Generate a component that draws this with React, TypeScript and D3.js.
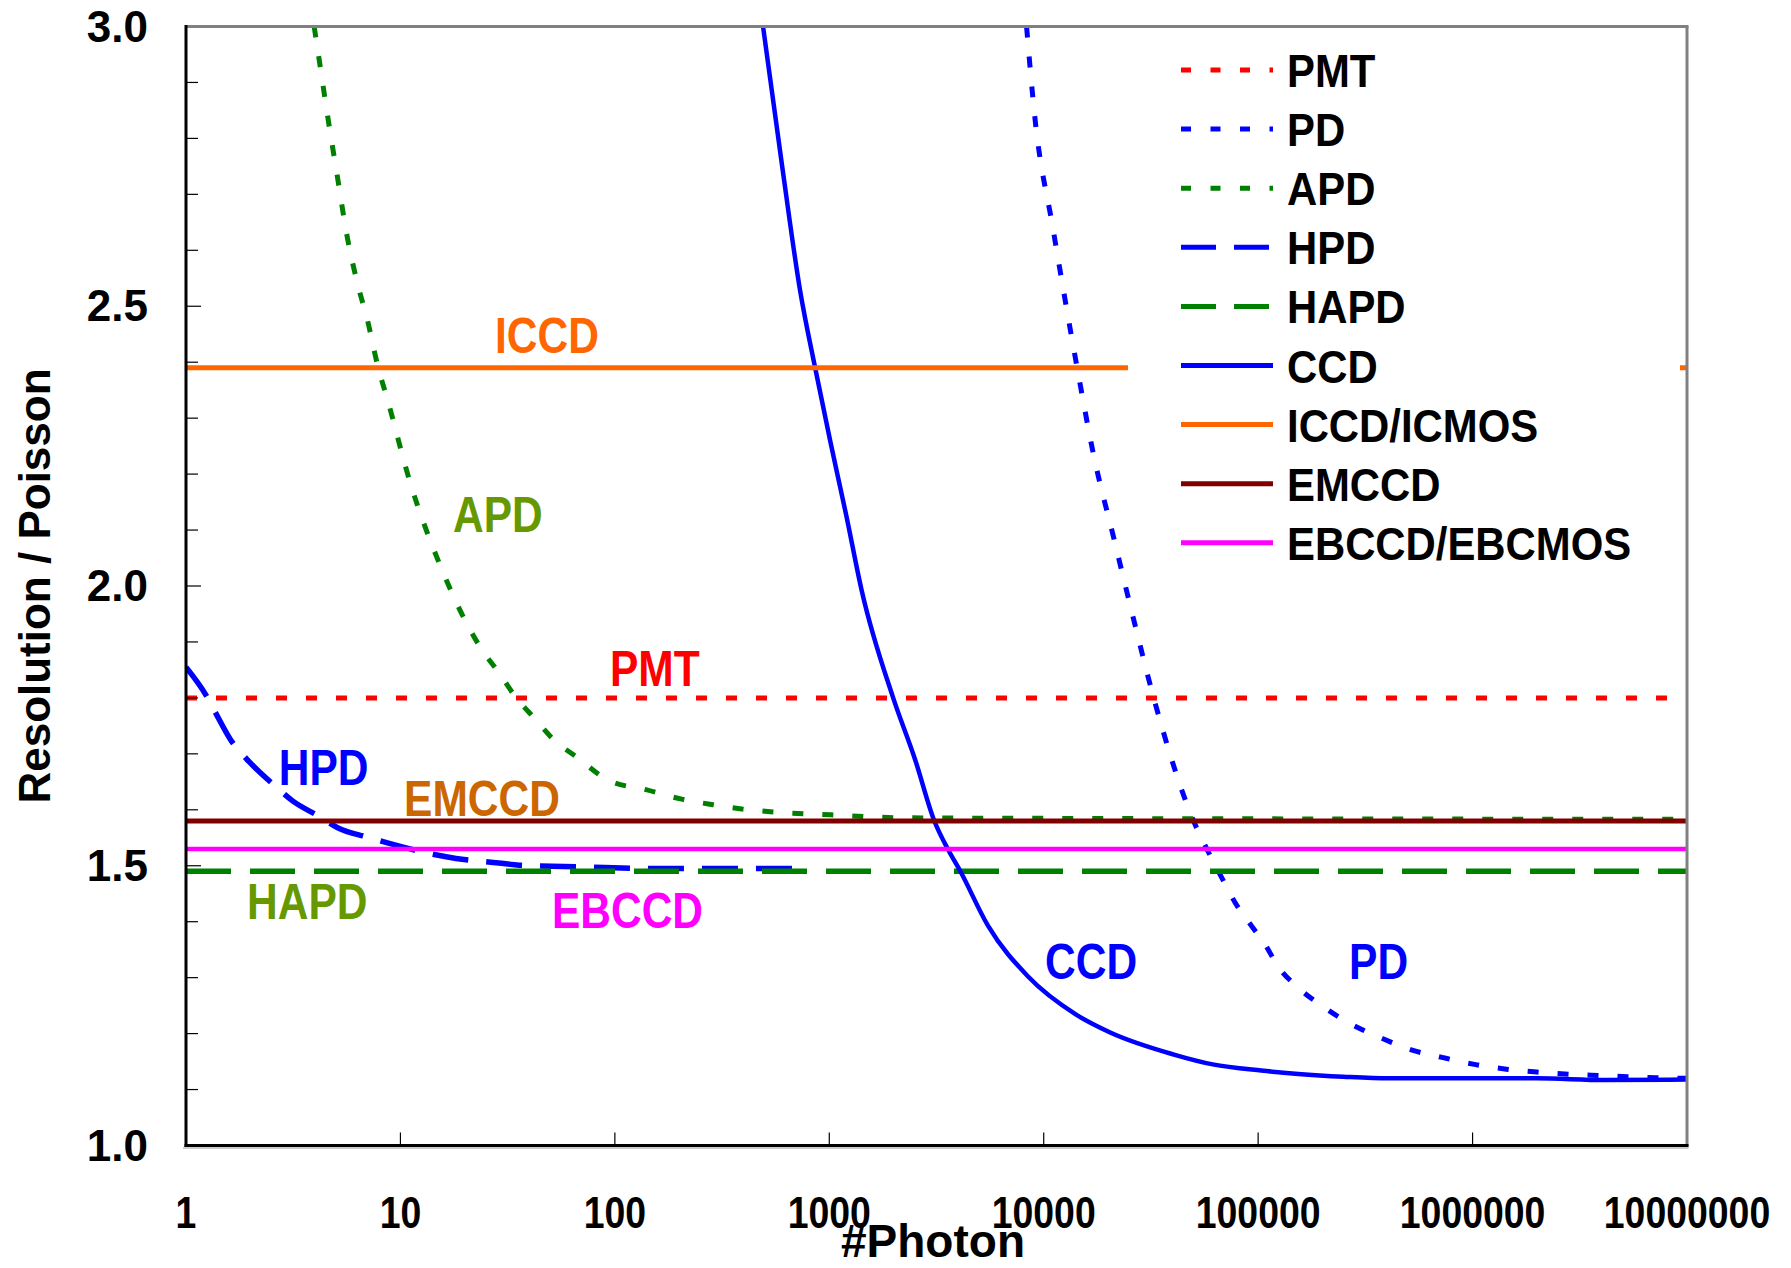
import React from 'react';
import * as d3 from 'd3';

const W = 1791;
const H = 1268;
const FONT = "'Liberation Sans', Arial, Helvetica, sans-serif";

// Axes
const X_DOMAIN = [1, 10000000];
const Y_DOMAIN = [1, 3];
const X_TICKS = [1, 10, 100, 1000, 10000, 100000, 1000000, 10000000];
const X_TICK_LABELS = ['1', '10', '100', '1000', '10000', '100000', '1000000', '10000000'];
const Y_MAJOR = [1.0, 1.5, 2.0, 2.5, 3.0];
const Y_TICK_LABELS = ['1.0', '1.5', '2.0', '2.5', '3.0'];
const Y_MINOR = [1.1, 1.2, 1.3, 1.4, 1.6, 1.7, 1.8, 1.9, 2.1, 2.2, 2.3, 2.4, 2.6, 2.7, 2.8, 2.9];
const X_TITLE = '#Photon';
const Y_TITLE = 'Resolution / Poisson';

// Flat series (constant levels)
const PMT_LEVEL = 1.80;
const ICCD_LEVEL = 2.39;
const EMCCD_LEVEL = 1.58;
const EBCCD_LEVEL = 1.53;
const HAPD_LEVEL = 1.49;

// Curves: photon number vs. resolution/poisson
const CCD_N = [491, 603, 731, 859, 1009, 1205, 1416, 1986, 2512, 3090, 3581, 4074, 5495, 8453, 14160, 20420, 40090, 61380, 103300, 153800, 249500, 407400, 1995000, 4130000, 10000000];
const CCD_V = [3.0, 2.75, 2.528, 2.39, 2.26, 2.123, 1.992, 1.80, 1.69, 1.58, 1.529, 1.491, 1.393, 1.302, 1.234, 1.202, 1.163, 1.145, 1.134, 1.128, 1.123, 1.120, 1.120, 1.117, 1.118];

const PD_N = [8318, 9078, 11070, 14320, 17180, 21180, 26120, 32580, 50000, 57810, 67140, 78160, 93760, 106700, 123900, 153800, 200900, 274200, 370700, 517600, 729400, 1019000, 1466000, 2046000, 2944000, 4018000, 5248000, 7178000, 10000000];
const PD_V = [3.0, 2.84, 2.637, 2.39, 2.23, 2.087, 1.944, 1.80, 1.58, 1.529, 1.481, 1.434, 1.391, 1.362, 1.32, 1.282, 1.248, 1.216, 1.193, 1.171, 1.157, 1.145, 1.136, 1.131, 1.127, 1.125, 1.123, 1.121, 1.12];

const APD_N = [3.96, 4.22, 4.61, 5.09, 5.61, 6.37, 6.97, 7.89, 8.63, 11.2, 15.2, 23.8, 28.9, 34.4, 42.1, 52.2, 66.5, 92.9, 139.6, 205.1, 287.1, 399.9, 601.2, 1019, 2000, 5212, 10000000];
const APD_V = [3.0, 2.93, 2.832, 2.73, 2.63, 2.534, 2.48, 2.389, 2.338, 2.18, 2.04, 1.888, 1.844, 1.802, 1.764, 1.724, 1.694, 1.653, 1.636, 1.619, 1.609, 1.601, 1.595, 1.591, 1.586, 1.585, 1.583];

const HPD_N = [1, 1.239, 1.38, 1.622, 1.905, 2.63, 3.141, 4.188, 5.093, 7.031, 8.872, 14.39, 18.16, 28.71, 35.81, 71.6, 143.5, 712.9];
const HPD_V = [1.855, 1.805, 1.772, 1.724, 1.692, 1.641, 1.616, 1.588, 1.568, 1.551, 1.540, 1.52, 1.513, 1.505, 1.501, 1.498, 1.495, 1.495];

// Legend
const LEGEND_NAMES = ['PMT', 'PD', 'APD', 'HPD', 'HAPD', 'CCD', 'ICCD/ICMOS', 'EMCCD', 'EBCCD/EBCMOS'];

const RED = '#FF0000';
const BLUE = '#0000FF';
const GREEN = '#008000';
const ORANGE = '#FF6600';
const MAROON = '#800000';
const MAGENTA = '#FF00FF';
const OLIVE = '#669900';
const BROWN_ORANGE = '#CC6600';

const DOT = '11,19';

type Style = { color: string; dash?: string; legendDash?: string; width: number };
const STYLES: Record<string, Style> = {
  PMT: { color: RED, dash: DOT, legendDash: '10,19.5', width: 5 },
  PD: { color: BLUE, dash: DOT, legendDash: '10,19.5', width: 5 },
  APD: { color: GREEN, dash: DOT, legendDash: '10,19.5', width: 5 },
  HPD: { color: BLUE, dash: '36,18', legendDash: '35,18', width: 5.5 },
  HAPD: { color: GREEN, dash: '45,19', legendDash: '35,18', width: 5.5 },
  CCD: { color: BLUE, width: 4.5 },
  'ICCD/ICMOS': { color: ORANGE, width: 5 },
  EMCCD: { color: MAROON, width: 5 },
  'EBCCD/EBCMOS': { color: MAGENTA, width: 4.5 },
};

// Annotation labels (anchored at their left baseline, in data coordinates)
const ANNOTATIONS = [
  { text: 'ICCD', color: ORANGE, n: 27.6, v: 2.417 },
  { text: 'APD', color: OLIVE, n: 17.6, v: 2.097 },
  { text: 'PMT', color: RED, n: 94.9, v: 1.821 },
  { text: 'HPD', color: BLUE, n: 2.71, v: 1.644 },
  { text: 'EMCCD', color: BROWN_ORANGE, n: 10.4, v: 1.589 },
  { text: 'HAPD', color: OLIVE, n: 1.926, v: 1.405 },
  { text: 'EBCCD', color: MAGENTA, n: 50.9, v: 1.389 },
  { text: 'CCD', color: BLUE, n: 10140, v: 1.297 },
  { text: 'PD', color: BLUE, n: 265500, v: 1.297 },
];

export default function App() {
  const left = 186;
  const right = 1687;
  const top = 26.5;
  const bottom = 1145.5;

  const x = d3.scaleLog().domain(X_DOMAIN).range([left, right]);
  const y = d3.scaleLinear().domain(Y_DOMAIN).range([bottom, top]);

  const line = d3
    .line<[number, number]>()
    .x((d) => x(d[0]))
    .y((d) => y(d[1]))
    .curve(d3.curveMonotoneX);

  const zip = (ns: number[], vs: number[]) => ns.map((n, i) => [n, vs[i]] as [number, number]);
  const flat = (v: number) => [[X_DOMAIN[0], v], [X_DOMAIN[1], v]] as [number, number][];

  const series: { name: string; pts: [number, number][] }[] = [
    { name: 'PMT', pts: flat(PMT_LEVEL) },
    { name: 'PD', pts: zip(PD_N, PD_V) },
    { name: 'APD', pts: zip(APD_N, APD_V) },
    { name: 'HPD', pts: zip(HPD_N, HPD_V) },
    { name: 'HAPD', pts: flat(HAPD_LEVEL) },
    { name: 'CCD', pts: zip(CCD_N, CCD_V) },
    { name: 'ICCD/ICMOS', pts: flat(ICCD_LEVEL) },
    { name: 'EMCCD', pts: flat(EMCCD_LEVEL) },
    { name: 'EBCCD/EBCMOS', pts: flat(EBCCD_LEVEL) },
  ];

  const legendX0 = 1181;
  const legendX1 = 1273;
  const legendTextX = 1287;
  const legendY0 = 70;
  const legendStep = 59.1;

  return (
    <svg
      width={W}
      height={H}
      viewBox={`0 0 ${W} ${H}`}
      style={{ position: 'absolute', left: 0, top: 0, background: '#fff' }}
      fontFamily={FONT}
      fontWeight="bold"
    >
      <rect x={0} y={0} width={W} height={H} fill="#fff" />
      <defs>
        <clipPath id="plotclip">
          <rect x={left} y={top} width={right - left} height={bottom - top} />
        </clipPath>
      </defs>

      {/* data */}
      <g clipPath="url(#plotclip)">
        {series.map((s) => {
          const st = STYLES[s.name];
          return (
            <path
              key={s.name}
              d={line(s.pts) || ''}
              fill="none"
              stroke={st.color}
              strokeWidth={st.width}
              strokeDasharray={st.dash}
              strokeLinecap="butt"
              strokeLinejoin="round"
            />
          );
        })}
      </g>

      {/* legend background */}
      <rect x={1128} y={32} width={552} height={548} fill="#fff" />

      {/* legend */}
      {LEGEND_NAMES.map((name, i) => {
        const st = STYLES[name];
        const cy = legendY0 + i * legendStep;
        return (
          <g key={name}>
            <line
              x1={legendX0}
              x2={legendX1}
              y1={cy}
              y2={cy}
              stroke={st.color}
              strokeWidth={5}
              strokeDasharray={st.legendDash}
            />
            <text
              transform={`translate(${legendTextX},${cy + 17}) scale(0.91,1)`}
              fontSize={46}
              fill="#000"
            >
              {name}
            </text>
          </g>
        );
      })}

      {/* annotations */}
      {ANNOTATIONS.map((a) => (
        <text
          key={a.text}
          transform={`translate(${x(a.n)},${y(a.v)}) scale(0.85,1)`}
          fontSize={50}
          fill={a.color}
        >
          {a.text}
        </text>
      ))}

      {/* y ticks */}
      {Y_MINOR.map((v) => (
        <line key={'ym' + v} x1={left} x2={left + 12} y1={y(v)} y2={y(v)} stroke="#000" strokeWidth={1.2} />
      ))}
      {Y_MAJOR.map((v) => (
        <line key={'yM' + v} x1={left} x2={left + 15} y1={y(v)} y2={y(v)} stroke="#000" strokeWidth={1.2} />
      ))}
      {Y_MAJOR.map((v, i) => (
        <text key={'yl' + v} x={148} y={y(v) + 15} textAnchor="end" fontSize={44} fill="#000">
          {Y_TICK_LABELS[i]}
        </text>
      ))}

      {/* x ticks */}
      {X_TICKS.map((t) => (
        <line key={'xt' + t} x1={x(t)} x2={x(t)} y1={bottom} y2={bottom - 13} stroke="#000" strokeWidth={1.2} />
      ))}
      {X_TICKS.map((t, i) => (
        <text
          key={'xl' + t}
          transform={`translate(${x(t)},1228) scale(0.85,1)`}
          textAnchor="middle"
          fontSize={44}
          fill="#000"
        >
          {X_TICK_LABELS[i]}
        </text>
      ))}

      {/* frame */}
      <line x1={left} x2={right + 1.5} y1={top} y2={top} stroke="#808080" strokeWidth={3} />
      <line x1={right} x2={right} y1={top} y2={bottom + 1.5} stroke="#808080" strokeWidth={3} />
      <line x1={left} x2={left} y1={top - 1.5} y2={bottom + 1.5} stroke="#000" strokeWidth={3} />
      <line x1={left - 1.5} x2={right + 1.5} y1={bottom} y2={bottom} stroke="#000" strokeWidth={3} />
      <line x1={left - 3} x2={right + 1.5} y1={bottom + 2.5} y2={bottom + 2.5} stroke="#999" strokeWidth={1} />

      {/* titles */}
      <text x={933} y={1257} textAnchor="middle" fontSize={46} fill="#000">
        {X_TITLE}
      </text>
      <text transform={`translate(50,586) rotate(-90)`} textAnchor="middle" fontSize={44} fill="#000">
        {Y_TITLE}
      </text>
    </svg>
  );
}
